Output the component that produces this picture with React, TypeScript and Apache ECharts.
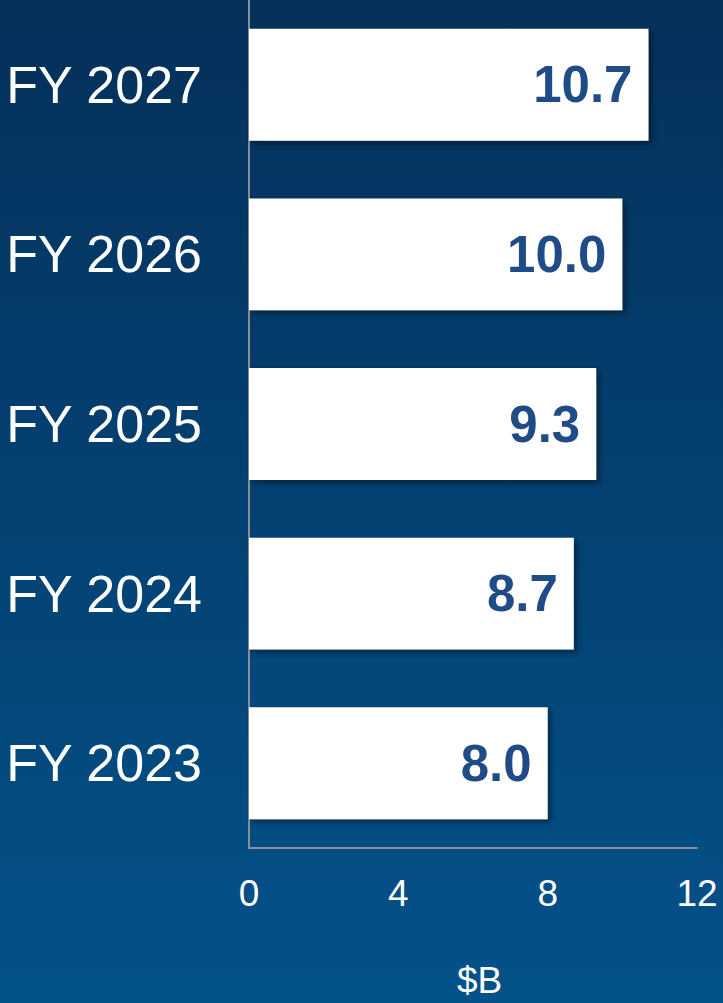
import React, { useEffect, useRef } from "react";
import * as echarts from "echarts";

const categories = ["FY 2023", "FY 2024", "FY 2025", "FY 2026", "FY 2027"];
const values = [8.0, 8.7, 9.3, 10.0, 10.7];
const xTicks = [0, 4, 8, 12];
const axisTitle = "$B";

export default function App() {
  const ref = useRef<HTMLDivElement>(null);
  useEffect(() => {
    const chart = echarts.init(ref.current!, null, { renderer: "svg" });
    chart.setOption({
      animation: false,
      backgroundColor: {
        type: "linear",
        x: 0, y: 0, x2: 0, y2: 1,
        colorStops: [
          { offset: 0, color: "#05305a" },
          { offset: 1, color: "#03528a" },
        ],
      },
      textStyle: { fontFamily: "Liberation Sans, Arial, sans-serif" },
      grid: { left: 249, right: 26, top: 0, bottom: 155, containLabel: false },
      xAxis: {
        type: "value",
        min: xTicks[0],
        max: xTicks[xTicks.length - 1],
        interval: 4,
        axisLine: { show: true, lineStyle: { color: "#8a8f96", width: 2 } },
        axisTick: { show: false },
        splitLine: { show: false },
        axisLabel: { color: "#ffffff", fontSize: 37, margin: 27 },
      },
      yAxis: {
        type: "category",
        data: categories,
        axisLine: { show: true, lineStyle: { color: "#8a8f96", width: 2 } },
        axisTick: { show: false },
        axisLabel: { color: "#ffffff", fontSize: 52, margin: 47 },
      },
      graphic: [
        {
          type: "text",
          left: 457,
          top: 962,
          style: { text: axisTitle, fill: "#ffffff", fontSize: 37, fontFamily: "Liberation Sans, Arial, sans-serif" },
        },
      ],
      series: [
        {
          type: "bar",
          data: values,
          barWidth: "66%",
          itemStyle: {
            color: "#ffffff",
            shadowColor: "rgba(0,0,0,0.45)",
            shadowBlur: 6,
            shadowOffsetX: 3,
            shadowOffsetY: 3,
          },
          label: {
            show: true,
            position: "insideRight",
            distance: 16,
            color: "#1f4b87",
            fontSize: 51,
            fontWeight: "bold",
            formatter: (p: any) => p.value.toFixed(1),
          },
        },
      ],
    });
    return () => chart.dispose();
  }, []);
  return <div ref={ref} style={{ position: "fixed", left: 0, top: 0, width: 723, height: 1003 }} />;
}
